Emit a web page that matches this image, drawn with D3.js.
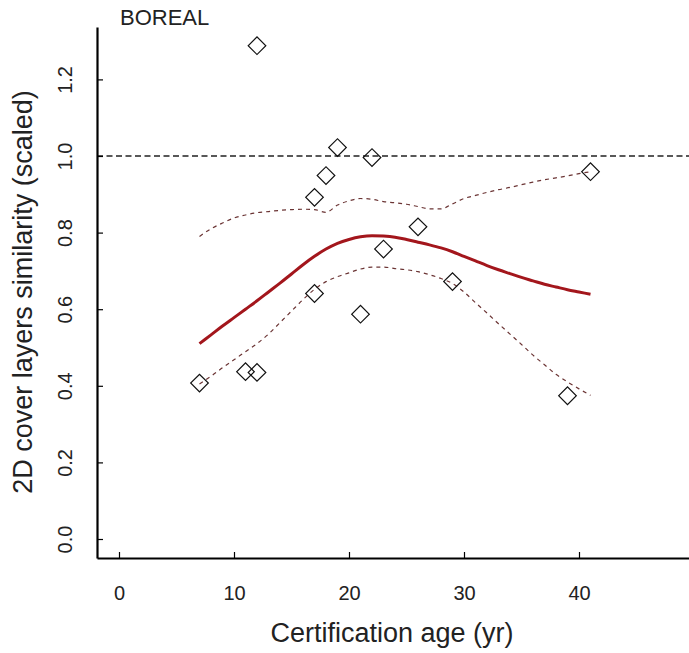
<!DOCTYPE html>
<html>
<head>
<meta charset="utf-8">
<script src="https://cdn.jsdelivr.net/npm/d3@7"></script>
<style>
  html, body { margin: 0; padding: 0; background: #fff; }
  svg { display: block; font-family: "Liberation Sans", Arial, sans-serif; }
</style>
</head>
<body>
<svg id="chart" width="689" height="653"></svg>
<script>
// ---- data ----
const panelTitle = "BOREAL";
const xTitle = "Certification age (yr)";
const yTitle = "2D cover layers similarity (scaled)";
const xTicks = [0, 10, 20, 30, 40];
const yTicks = [0.0, 0.2, 0.4, 0.6, 0.8, 1.0, 1.2];
const refLine = 1.0;

// observed points
const pointAge = [7, 11, 12, 12, 17, 17, 18, 19, 21, 22, 23, 26, 29, 39, 41];
const pointSim = [0.407, 0.437, 0.435, 1.288, 0.892, 0.641, 0.949, 1.022, 0.587, 0.996, 0.757, 0.815, 0.672, 0.374, 0.959];

// fitted curve and confidence band (read at each year)
const fitAge = [7, 8, 9, 10, 11, 12, 13, 14, 15, 16, 17, 18, 19, 20, 21, 22, 23, 24, 25, 26, 27, 28, 29, 30, 31, 32, 33, 34, 35, 36, 37, 38, 39, 40, 41];
const fitMean = [0.51, 0.533, 0.556, 0.578, 0.6, 0.622, 0.645, 0.668, 0.692, 0.716, 0.738, 0.757, 0.772, 0.782, 0.789, 0.792, 0.791, 0.788, 0.782, 0.775, 0.768, 0.76, 0.75, 0.738, 0.726, 0.714, 0.703, 0.693, 0.683, 0.674, 0.665, 0.658, 0.651, 0.645, 0.639];
const fitUpper = [0.79, 0.81, 0.825, 0.838, 0.846, 0.852, 0.855, 0.858, 0.86, 0.861, 0.86, 0.853, 0.872, 0.883, 0.889, 0.887, 0.881, 0.878, 0.874, 0.868, 0.862, 0.862, 0.875, 0.889, 0.897, 0.905, 0.912, 0.918, 0.925, 0.932, 0.938, 0.943, 0.948, 0.954, 0.959];
const fitLower = [0.405, 0.425, 0.447, 0.468, 0.489, 0.51, 0.535, 0.565, 0.595, 0.625, 0.652, 0.672, 0.685, 0.695, 0.705, 0.71, 0.71, 0.706, 0.703, 0.698, 0.69, 0.68, 0.667, 0.645, 0.617, 0.59, 0.562, 0.535, 0.508, 0.48, 0.455, 0.43, 0.41, 0.392, 0.375];

// ---- layout ----
const svg = d3.select("#chart");
const mLeft = 97, mRight = 689, mTop = 27, mBottom = 558;
// 0 -> 119px, 10 units -> 115px ; 0 -> 539px, 1 unit -> 383px
const x = d3.scaleLinear().domain([(mLeft - 119) / 11.5, (mRight - 119) / 11.5]).range([mLeft, mRight]);
const y = d3.scaleLinear().domain([(539 - mBottom) / 383, (539 - mTop) / 383]).range([mBottom, mTop]);

// reference dashed line
svg.append("line")
  .attr("x1", mLeft).attr("x2", mRight)
  .attr("y1", y(refLine)).attr("y2", y(refLine))
  .attr("stroke", "#222").attr("stroke-width", 1.3)
  .attr("stroke-dasharray", "6,3.5");

const line = d3.line().curve(d3.curveMonotoneX);
const fitIdx = d3.range(fitAge.length);

svg.append("path")
  .attr("d", line.x(i => x(fitAge[i])).y(i => y(fitUpper[i]))(fitIdx))
  .attr("fill", "none").attr("stroke", "#6b3434").attr("stroke-width", 1.2)
  .attr("stroke-dasharray", "4,4");
svg.append("path")
  .attr("d", line.x(i => x(fitAge[i])).y(i => y(fitLower[i]))(fitIdx))
  .attr("fill", "none").attr("stroke", "#6b3434").attr("stroke-width", 1.2)
  .attr("stroke-dasharray", "4,4");
svg.append("path")
  .attr("d", line.x(i => x(fitAge[i])).y(i => y(fitMean[i]))(fitIdx))
  .attr("fill", "none").attr("stroke", "#a3161c").attr("stroke-width", 3);

// points (open diamonds)
const sym = d3.symbol().type(d3.symbolSquare).size(155);
svg.append("g").selectAll("path")
  .data(d3.range(pointAge.length))
  .join("path")
  .attr("d", sym)
  .attr("transform", i => `translate(${x(pointAge[i])},${y(pointSim[i])}) rotate(45)`)
  .attr("fill", "none").attr("stroke", "#111").attr("stroke-width", 1.2);

// axes
const xAxis = d3.axisBottom(x).tickValues(xTicks).tickFormat(d3.format("d"))
  .tickSizeInner(-6).tickSizeOuter(0).tickPadding(0);
const gx = svg.append("g").attr("transform", `translate(0,${mBottom})`).call(xAxis);
gx.select(".domain").attr("stroke", "#000").attr("stroke-width", 2.2);
gx.selectAll(".tick line").attr("stroke", "#000").attr("stroke-width", 1.2);
gx.selectAll(".tick text")
  .attr("y", 42).attr("dy", 0)
  .attr("font-size", 20).attr("fill", "#222")
  .attr("font-family", "Liberation Sans, Arial, sans-serif");

const yAxis = d3.axisLeft(y).tickValues(yTicks).tickFormat(d3.format(".1f"))
  .tickSizeInner(-6).tickSizeOuter(0).tickPadding(0);
const gy = svg.append("g").attr("transform", `translate(${mLeft},0)`).call(yAxis);
gy.select(".domain").attr("stroke", "#000").attr("stroke-width", 2.2);
gy.selectAll(".tick line").attr("stroke", "#000").attr("stroke-width", 1.2);
gy.selectAll(".tick text")
  .attr("x", 0).attr("y", 0).attr("dy", 0)
  .attr("transform", "translate(-25,0) rotate(-90)")
  .attr("text-anchor", "middle")
  .attr("font-size", 20).attr("fill", "#222")
  .attr("font-family", "Liberation Sans, Arial, sans-serif");

// titles
svg.append("text")
  .attr("x", 392).attr("y", 642)
  .attr("text-anchor", "middle").attr("font-size", 27).attr("fill", "#222")
  .text(xTitle);
svg.append("text")
  .attr("transform", `translate(32,292) rotate(-90)`)
  .attr("text-anchor", "middle").attr("font-size", 27).attr("fill", "#222")
  .text(yTitle);
svg.append("text")
  .attr("x", 120).attr("y", 25)
  .attr("font-size", 22).attr("fill", "#222")
  .text(panelTitle);
</script>
</body>
</html>
